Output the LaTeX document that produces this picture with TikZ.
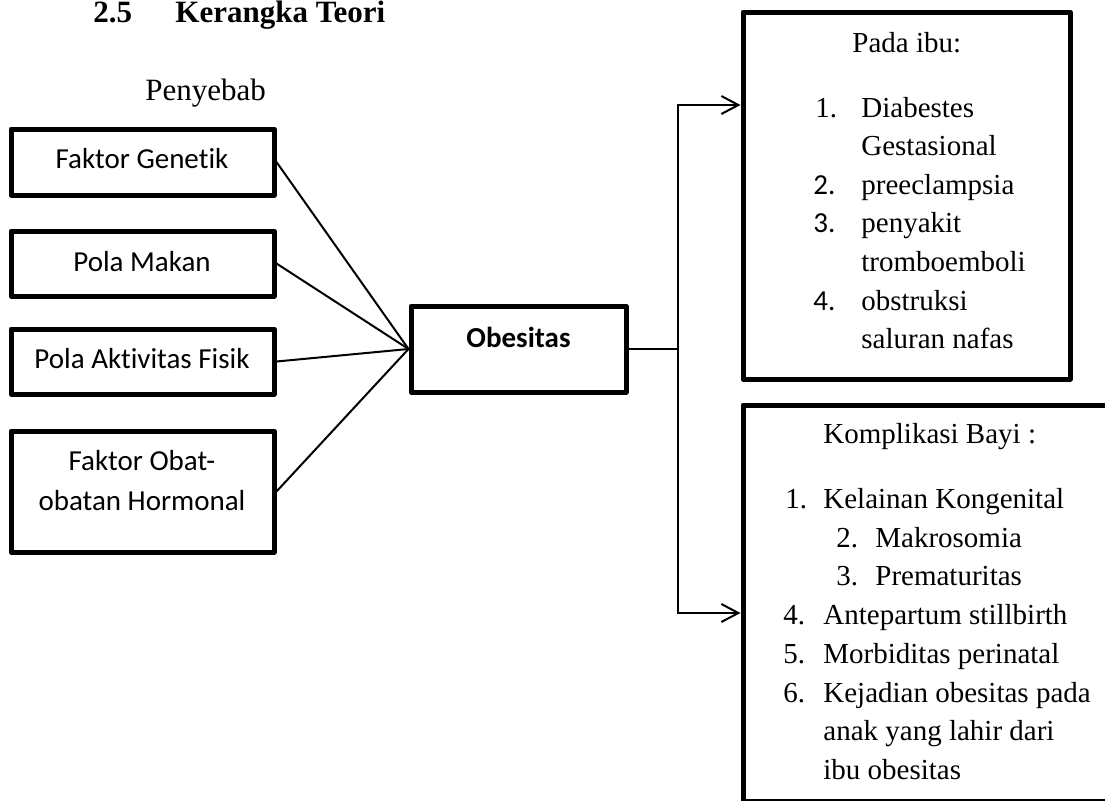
\documentclass[tikz,border=0pt]{standalone}
\usepackage{fontspec}
\setmainfont{Liberation Serif}
\newfontfamily\calibri[Ligatures=NoCommon]{Carlito}
\usetikzlibrary{arrows.meta}
\tikzset{
  box/.style={draw, line width=2.5pt, inner sep=0pt, line join=round},
  conn/.style={draw, line width=1pt},
  arr/.style={-{Straight Barb[length=8.5pt,width=9pt,line width=1pt]}},
  txt/.style={inner sep=0pt, anchor=base west, font=\fontsize{14.5}{17}\selectfont},
  stxt/.style={inner sep=0pt, anchor=base west, font=\calibri\fontsize{14.5}{17}\selectfont},
  ctxt/.style={inner sep=0pt, anchor=base, font=\calibri\fontsize{14.5}{17}\selectfont},
  head/.style={inner sep=0pt, anchor=base west, font=\fontsize{15.5}{18}\selectfont},
}
\begin{document}
\begin{tikzpicture}[x=0.5pt,y=-0.5pt]
\useasboundingbox (0,0) rectangle (1105,800);
\clip (0,0) rectangle (1105,800);
% title
\node[head, font=\bfseries\fontsize{15.5}{18}\selectfont] (t1) at (93,22) {2.5};
\node[head, font=\bfseries\fontsize{15.5}{18}\selectfont] (t2) at (175,22) {Kerangka Teori};
\node[head] (peny) at (145,100) {Penyebab};
% left boxes
\node[box, minimum width=131.5pt, minimum height=33pt] (gen) at (142.5,162) {};
\node[box, minimum width=131.5pt, minimum height=32.5pt] (makan) at (142.5,263.5) {};
\node[box, minimum width=131.5pt, minimum height=32.5pt] (fisik) at (142.5,361.5) {};
\node[box, minimum width=131.5pt, minimum height=60.5pt] (obat) at (142.5,491.5) {};
\node[ctxt] (gen-t) at (142,168) {Faktor Genetik};
\node[ctxt] (makan-t) at (142,271) {Pola Makan};
\node[ctxt] (fisik-t) at (142,368) {Pola Aktivitas Fisik};
\node[ctxt] (obat-t1) at (142,470) {Faktor Obat-};
\node[ctxt] (obat-t2) at (142,510) {obatan Hormonal};
% centre box
\node[box, minimum width=107.5pt, minimum height=43pt] (obes) at (518.5,349) {};
\node[ctxt, font=\calibri\bfseries\fontsize{14.5}{17}\selectfont] (obes-t) at (518.5,347) {Obesitas};
% right boxes
\node[box, minimum width=163.5pt, minimum height=183.5pt] (ibu) at (906.5,195.5) {};
\node[box, minimum width=186pt, minimum height=198pt] (bayi) at (929,603) {};
% Pada ibu text
\node[txt] (ibu-h) at (852,52) {Pada ibu:};
\node[txt] (i1n) at (815,117) {1.};
\node[txt] (i1a) at (861,117) {Diabestes};
\node[txt] (i1b) at (861,155.5) {Gestasional};
\node[stxt] (i2n) at (813,194) {2.};
\node[txt] (i2a) at (861,194) {preeclampsia};
\node[stxt] (i3n) at (813,232.5) {3.};
\node[txt] (i3a) at (861,232.5) {penyakit};
\node[txt] (i3b) at (861,271) {tromboemboli};
\node[stxt] (i4n) at (813,310) {4.};
\node[txt] (i4a) at (861,310) {obstruksi};
\node[txt] (i4b) at (861,348) {saluran nafas};
% Komplikasi bayi text
\node[txt] (b-h) at (823,443) {Komplikasi Bayi :};
\node[txt] (b1n) at (785,508) {1.};
\node[txt] (b1a) at (823,508) {Kelainan Kongenital};
\node[txt] (b2n) at (836,547) {2.};
\node[txt] (b2a) at (875,547) {Makrosomia};
\node[txt] (b3n) at (836,585.5) {3.};
\node[txt] (b3a) at (875,585.5) {Prematuritas};
\node[txt] (b4n) at (783,624.5) {4.};
\node[txt] (b4a) at (823,624.5) {Antepartum stillbirth};
\node[txt] (b5n) at (783,663) {5.};
\node[txt] (b5a) at (823,663) {Morbiditas perinatal};
\node[txt] (b6n) at (783,702) {6.};
\node[txt] (b6a) at (823,702) {Kejadian obesitas pada};
\node[txt] (b6b) at (823,740.5) {anak yang lahir dari};
\node[txt] (b6c) at (823,779) {ibu obesitas};
% connectors
\draw[conn] (gen.east) -- (obes.west);
\draw[conn] (makan.east) -- (obes.west);
\draw[conn] (fisik.east) -- (obes.west);
\draw[conn] (obat.east) -- (obes.west);
\coordinate (ju) at (678,105);
\coordinate (jd) at (678,613);
\draw[conn,arr] (obes.east) -| (ju) -- (ju -| ibu.west);
\draw[conn,arr] (obes.east) -| (jd) -- (jd -| bayi.west);
\end{tikzpicture}
\end{document}
